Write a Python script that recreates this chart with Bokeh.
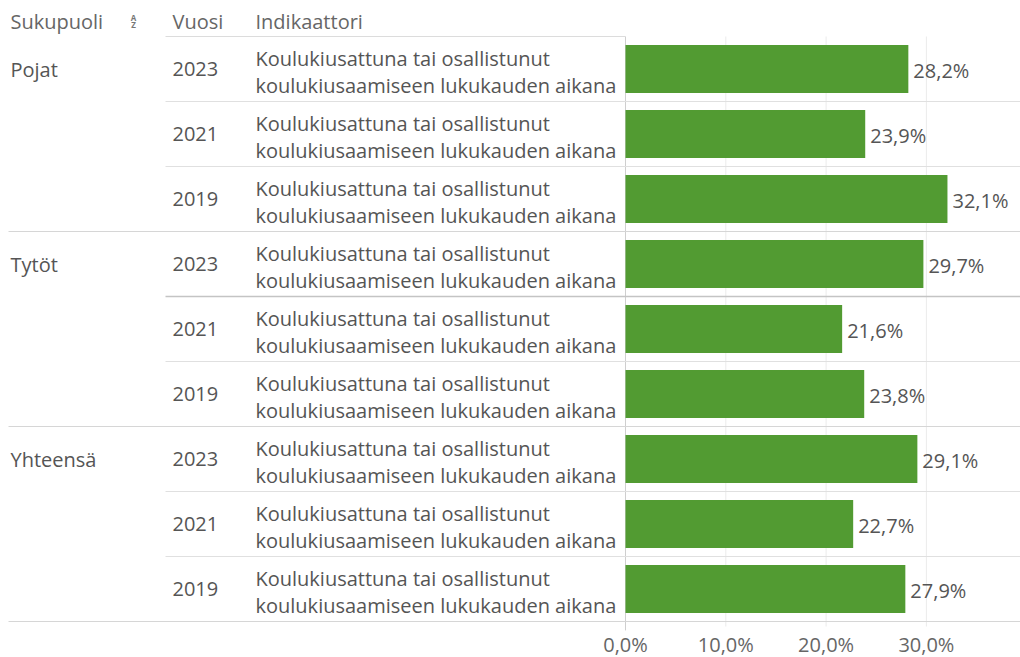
from bokeh.plotting import figure
from bokeh.models import Range1d, FixedTicker, ColumnDataSource
from bokeh.core.properties import value
from bokeh.embed import file_html
from bokeh.resources import INLINE

# ---------------- data ----------------
headers = ["Sukupuoli", "Vuosi", "Indikaattori"]
genders = ["Pojat", "Tytöt", "Yhteensä"]
years = ["2023", "2021", "2019"]
indicator_line1 = "Koulukiusattuna tai osallistunut"
indicator_line2 = "koulukiusaamiseen lukukauden aikana"
values = [28.2, 23.9, 32.1,   # Pojat 2023, 2021, 2019
          29.7, 21.6, 23.8,   # Tytöt
          29.1, 22.7, 27.9]   # Yhteensä
tick_values = [0, 10, 20, 30, 40]
tick_labels = ["0,0%", "10,0%", "20,0%", "30,0%", "40,0%"]

# ---------------- layout (pixels) ----------------
W, H = 1020, 657
TOP_PX = 36          # rows start below header
ROW_PX = 65
ZERO_PX = 625        # x pixel of 0 %
PX_PER_PCT = 10.03
AXIS_Y_PX = 626
SHIFT = 8            # text placement correction (px)

def fx(px):
    return (px - ZERO_PX) / PX_PER_PCT

def fy(py):
    return (py - TOP_PX) / ROW_PX

def off(px):
    return (px - SHIFT) / ROW_PX

x_start, x_end = fx(0), fx(W)
y_top, y_bottom = fy(0), fy(H)
y_axis = fy(AXIS_Y_PX)

FONT = value("Open Sans")
TXT = "#555555"
HDR = "#666666"
BAR = "#529b32"

n = len(values)
rows = list(range(n))
row_year = [years[i % 3] for i in rows]
labels = [f"{v:.1f}%".replace(".", ",") for v in values]

src = ColumnDataSource(dict(
    row=rows,
    yc=[r + 0.5 for r in rows],
    val=values,
    lab=labels,
    year=row_year,
    l1=[indicator_line1] * n,
    l2=[indicator_line2] * n,
    y_year=[r + off(40.5) for r in rows],
    y_val=[r + off(41.5) for r in rows],
    y_l1=[r + off(30) for r in rows],
    y_l2=[r + off(57.3) for r in rows],
))

p = figure(width=W, height=H, output_backend="svg", toolbar_location=None,
           x_range=Range1d(x_start, x_end), y_range=Range1d(y_bottom, y_top),
           y_axis_location=None, min_border_left=0, min_border_right=0,
           min_border_top=0, min_border_bottom=0)
p.outline_line_color = None
p.grid.visible = False
p.background_fill_color = "white"
p.border_fill_color = "white"

# vertical grid lines in the bar pane
grid_ticks = [t for t in tick_values if 0 < t < x_end]
p.segment(x0=grid_ticks, x1=grid_ticks, y0=[0] * len(grid_ticks),
          y1=[y_axis] * len(grid_ticks), line_color="#ebebeb", line_width=1)
p.segment(x0=[0], x1=[0], y0=[0], y1=[y_axis + 0.06], line_color="#cfcfcf", line_width=1)

# horizontal separators
inner = [r for r in range(1, n) if r % 3 != 0]
outer = [r for r in range(3, n + 1, 3)]
p.segment(x0=[fx(165)], x1=[0], y0=[0], y1=[0], line_color="#dcdcdc", line_width=1)
p.segment(x0=[fx(165)] * len(inner), x1=[x_end] * len(inner), y0=inner, y1=inner,
          line_color=["#c4c4c4" if r == 4 else "#e0e0e0" for r in inner],
          line_width=[1.6 if r == 4 else 1 for r in inner])
p.segment(x0=[fx(8)] * len(outer), x1=[x_end] * len(outer), y0=outer, y1=outer,
          line_color="#d6d6d6", line_width=1)

# bars
p.hbar(y="yc", left=0, right="val", height=48 / ROW_PX, source=src,
       fill_color=BAR, line_color=None)

# value labels
p.text(x="val", y="y_val", text="lab", source=src, x_offset=5,
       text_font=FONT, text_font_size="20px", text_color=TXT,
       text_baseline="alphabetic", text_align="left")

# table texts
p.text(x=fx(172), y="y_year", text="year", source=src,
       text_font=FONT, text_font_size="20px", text_color=TXT,
       text_baseline="alphabetic", text_align="left")
p.text(x=fx(255), y="y_l1", text="l1", source=src,
       text_font=FONT, text_font_size="20px", text_color=TXT,
       text_baseline="alphabetic", text_align="left")
p.text(x=fx(255), y="y_l2", text="l2", source=src,
       text_font=FONT, text_font_size="20px", text_color=TXT,
       text_baseline="alphabetic", text_align="left")
p.text(x=[fx(10)] * len(genders), y=[3 * i + off(41) for i in range(len(genders))],
       text=genders, text_font=FONT, text_font_size="20px", text_color=TXT,
       text_baseline="alphabetic", text_align="left")

# header
p.text(x=[fx(10), fx(172), fx(255)], y=[fy(28.5 - SHIFT)] * 3, text=headers,
       text_font=FONT, text_font_size="20px", text_color=HDR,
       text_baseline="alphabetic", text_align="left")
# sort icon
p.text(x=[fx(133), fx(133)], y=[fy(20 - 3), fy(27 - 3)], text=["A", "Z"],
       text_font=FONT, text_font_size="8px", text_color="#777777",
       text_baseline="alphabetic", text_align="center", text_font_style="bold")

# x axis, drawn at the bottom of the table
ax = p.xaxis[0]
ax.fixed_location = y_axis
ax.ticker = FixedTicker(ticks=tick_values)
ax.major_label_overrides = {t: l for t, l in zip(tick_values, tick_labels)}
ax.axis_line_color = None
ax.major_tick_line_color = None
ax.minor_tick_line_color = None
ax.major_label_standoff = -2
ax.major_label_text_font = "Open Sans"
ax.major_label_text_font_size = "20px"
ax.major_label_text_color = HDR

open("out.html", "w").write(file_html(p, INLINE))
